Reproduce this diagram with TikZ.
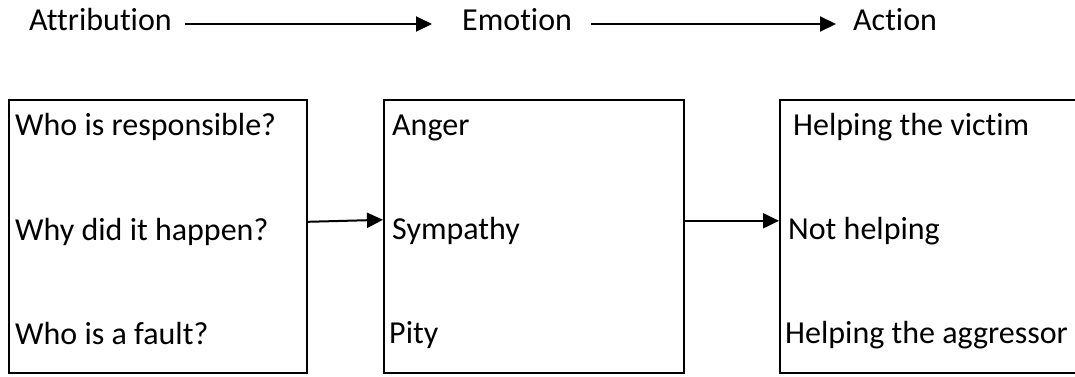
\documentclass[tikz,border=0pt]{standalone}
\usepackage{fontspec}
\setmainfont{Carlito}[RawFeature=-liga]
\usetikzlibrary{arrows.meta}
\begin{document}
\begin{tikzpicture}[x=1pt,y=-1pt,
  lbl/.style={anchor=base west,inner sep=0pt,font=\fontsize{32}{36}\selectfont},
  boxnode/.style={draw,line width=1.6pt,rectangle,inner sep=0pt,anchor=north west},
  arr/.style={line width=2pt,-{Triangle[length=16pt,width=15pt]}}]
\useasboundingbox (0,0) rectangle (1075,376);
\clip (0,0) rectangle (1075,376);
% top row
\node[lbl] (attr) at (29,30) {Attribution};
\node[lbl] (emo) at (462,30) {Emotion};
\node[lbl] (act) at (853,30) {Action};
\draw[arr] ([shift={(156,-6)}]attr.base west) -- ([shift={(-30,-6)}]emo.base west);
\draw[arr] ([shift={(129,-6)}]emo.base west) -- ([shift={(-17,-6)}]act.base west);
% boxes
\node[boxnode,minimum width=298pt,minimum height=273pt] (b1) at (8,99) {};
\node[boxnode,minimum width=300pt,minimum height=273pt] (b2) at (383,99) {};
\node[boxnode,minimum width=320pt,minimum height=273pt] (b3) at (779,99) {};
% box texts
\node[lbl] (t11) at (15,135) {Who is responsible?};
\node[lbl] (t12) at (15,240) {Why did it happen?};
\node[lbl] (t13) at (15,344) {Who is a fault?};
\node[lbl] (t21) at (392,135) {Anger};
\node[lbl] (t22) at (392,239) {Sympathy};
\node[lbl] (t23) at (389,343) {Pity};
\node[lbl] (t31) at (793,135) {Helping the victim};
\node[lbl] (t32) at (788,239) {Not helping};
\node[lbl] (t33) at (785,343) {Helping the aggressor};
% connectors
\draw[arr] ([yshift=14.5pt]b1.east) -- ([yshift=16.5pt]b2.west);
\draw[arr] ([yshift=15.5pt]b2.east) -- ([yshift=15.5pt]b3.west);
\end{tikzpicture}
\end{document}
